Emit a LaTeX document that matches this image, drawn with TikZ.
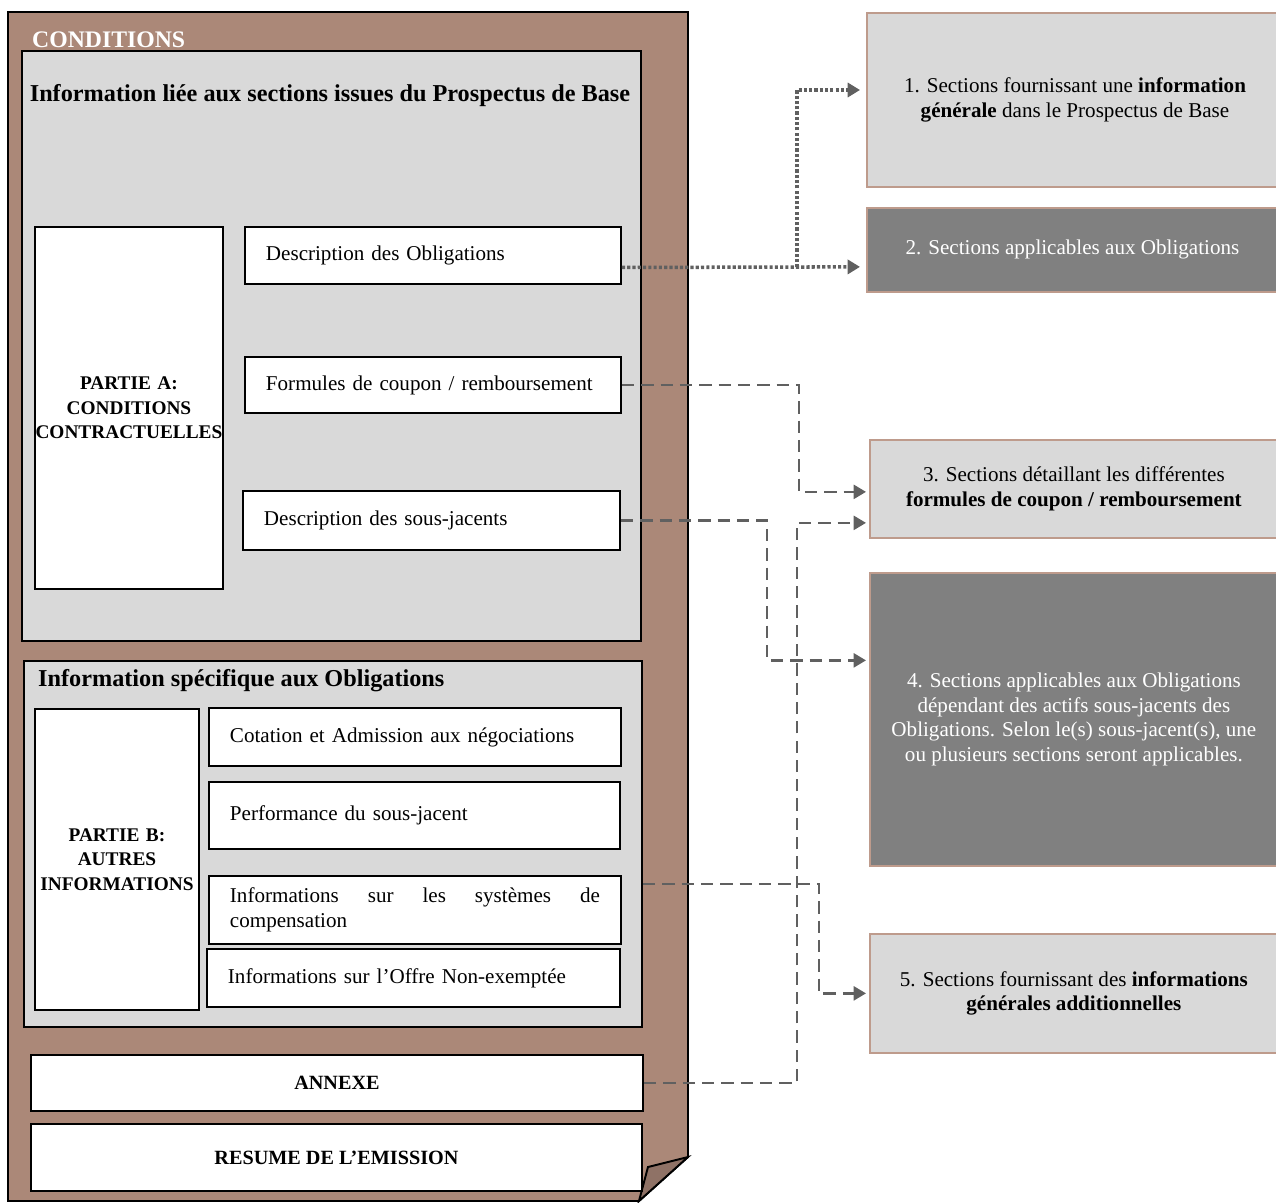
\documentclass[tikz,border=0pt]{standalone}
\usepackage{fontspec}
\setmainfont{Liberation Serif}
\usetikzlibrary{arrows.meta,positioning,calc}
\definecolor{pagebrown}{RGB}{171,136,120}
\definecolor{flapbrown}{RGB}{143,114,102}
\definecolor{lightgrey}{RGB}{217,217,217}
\definecolor{darkbox}{RGB}{128,128,128}
\definecolor{linkgrey}{RGB}{96,96,96}
\definecolor{edgebrown}{RGB}{190,155,140}

\begin{document}
\begin{tikzpicture}[x=0.02cm,y=-0.02cm,
    every node/.style={font=\fontsize{12}{14}\selectfont},
    wh/.style 2 args={minimum width=#1*0.02cm,minimum height=#2*0.02cm},
    blk/.style={draw,line width=1.1pt,anchor=north west,inner sep=0pt},
    item/.style 2 args={blk,fill=white,wh={#1}{#2},text width=(#1-42)*0.02cm,inner xsep=0.42cm,align=left},
    bold/.style={font=\bfseries\fontsize{11.5}{14}\selectfont},
    part/.style 2 args={blk,fill=white,wh={#1}{#2},text width=#1*0.02cm,align=center,font=\bfseries\fontsize{11}{14}\selectfont},
    heading/.style={font=\bfseries\fontsize{13.8}{16}\selectfont},
    sect/.style={draw=edgebrown,line width=1pt,anchor=north west,inner sep=0pt,align=center},
    dashlink/.style={draw=linkgrey,line width=1.3pt,dash pattern=on 7pt off 4pt,-{Triangle[length=7pt,width=8pt]}},
    dotlink/.style={draw=linkgrey,line width=2pt,dash pattern=on 1.8pt off 1.2pt,-{Triangle[length=7pt,width=8pt]}}]
    \useasboundingbox (0,0) rectangle (1276,1203);

    % folded page
    \draw [fill=pagebrown,line width=1.1pt] (8,12) -- (688,12) -- (688,1157) -- (639,1201) -- (8,1201) -- cycle;
    \draw [fill=flapbrown,line width=1.1pt] (688,1157) -- (648,1167) -- (639,1201) -- cycle;
    \node [anchor=west,text=white,font=\bfseries\fontsize{13.5}{16}\selectfont] (conditions) at (26,40) {CONDITIONS};

    % partie A
    \node [blk,fill=lightgrey,wh={619}{590}] (based) at (21,50) {};
    \node [heading] (basetitle) at (330,96) {Information liée aux sections issues du Prospectus de Base};
    \node [part={188}{362}] (partA) at (34,226) {PARTIE A:\\CONDITIONS\\CONTRACTUELLES};
    \node [item={376}{57}] (descobl) at (244,226) {Description des Obligations};
    \node [item={376}{56}] (formules) at (244,356) {Formules de coupon / remboursement};
    \node [item={377}{59}] (descsj) at (242,490) {Description des sous-jacents};

    % partie B
    \node [blk,fill=lightgrey,wh={618}{366}] (specific) at (23,660) {};
    \node [anchor=west,heading] (spectitle) at (32,681) {Information spécifique aux Obligations};
    \node [part={164}{301}] (partB) at (34,708) {PARTIE B:\\AUTRES\\INFORMATIONS};
    \node [item={412}{58}] (cotation) at (208,707) {Cotation et Admission aux négociations};
    \node [item={411}{67}] (perf) at (208,781) {Performance du sous-jacent};
    \node [item={412}{68},align=justify] (systemes) at (208,875) {Informations sur les systèmes de \mbox{compensation}};
    \node [item={413}{58}] (offre) at (206,948) {Informations sur l’Offre Non-exemptée};

    \node [blk,fill=white,wh={612}{56},bold] (annexe) at (30,1054) {ANNEXE};
    \node [blk,fill=white,wh={611}{67},bold] (resume) at (30,1123) {RESUME DE L’EMISSION};

    % sections du prospectus
    \node [sect,fill=lightgrey,wh={411}{174}] (sec1) at (866,12) {};
    \node [align=center] (sec1txt) at (1075,100) {1. Sections fournissant une \textbf{information}\\\textbf{générale} dans le Prospectus de Base};
    \node [sect,fill=darkbox,text=white,wh={411}{84}] (sec2) at (866,207) {2. Sections applicables aux Obligations};
    \node [sect,fill=lightgrey,wh={408}{98}] (sec3) at (869,439) {3. Sections détaillant les différentes\\\textbf{formules de coupon / remboursement}};
    \node [sect,fill=darkbox,text=white,wh={408}{293}] (sec4) at (869,572) {4. Sections applicables aux Obligations\\dépendant des actifs sous-jacents des\\Obligations. Selon le(s) sous-jacent(s), une\\ou plusieurs sections seront applicables.};
    \node [sect,fill=lightgrey,wh={408}{119}] (sec5) at (869,933) {5. Sections fournissant des \textbf{informations}\\\textbf{générales additionnelles}};

    % renvois
    \draw [dotlink] ($(descobl.east)+(0,12)$) -- ($(sec2.west)+(-6,17)$);
    \draw [dotlink] ($(descobl.east)+(175,12)$) |- ($(sec1.north west)+(-6,78)$);
    \draw [dashlink] (formules.east) -- ++(177,0) |- ($(sec3.west)+(-3,3)$);
    \draw [dashlink] (descsj.east) -- ++(146,0) |- ($(sec4.west)+(-3,-59)$);
    \draw [dashlink] ($(systemes.north east)+(21,9)$) -- ++(176,0) |- ($(sec5.west)+(-3,0)$);
    \draw [dashlink] (annexe.east) -- ++(153,0) |- ($(sec3.west)+(-3,34)$);
\end{tikzpicture}
\end{document}
